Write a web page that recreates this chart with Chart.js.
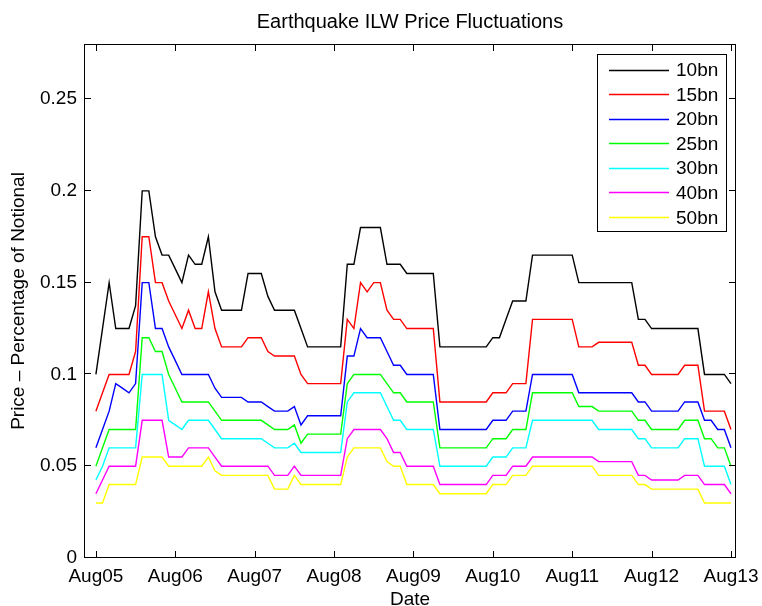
<!DOCTYPE html>
<html>
<head>
<meta charset="utf-8">
<script src="https://cdn.jsdelivr.net/npm/chart.js@4.4.1/dist/chart.umd.min.js"></script>
<style>
html,body{margin:0;padding:0;background:#ffffff;}
canvas{display:block;}
</style>
</head>
<body>
<canvas id="c" width="762" height="606"></canvas>
<script>
// ---- data (monthly, Aug 2005 = month 0 ... Aug 2013 = month 96) ----
const seriesNames  = ['10bn','15bn','20bn','25bn','30bn','40bn','50bn'];
const seriesColors = ['#000000','#ff0000','#0000ff','#00ff00','#00ffff','#ff00ff','#ffff00'];
const tickMonths   = [0,12,24,36,48,60,72,84,96];
const tickLabels   = ['Aug05','Aug06','Aug07','Aug08','Aug09','Aug10','Aug11','Aug12','Aug13'];
const yTickValues  = [0,0.05,0.1,0.15,0.2,0.25];
const yTickLabels  = ['0','0.05','0.1','0.15','0.2','0.25'];

const price10bn = [
  0.1,0.125,0.15,0.125,0.125,0.125,0.1375,0.2,0.2,0.175,0.165,0.165,
  0.1575,0.15,0.165,0.16,0.16,0.175,0.145,0.135,0.135,0.135,0.135,0.155,
  0.155,0.155,0.1425,0.135,0.135,0.135,0.135,0.125,0.115,0.115,0.115,0.115,
  0.115,0.115,0.16,0.16,0.18,0.18,0.18,0.18,0.16,0.16,0.16,0.155,
  0.155,0.155,0.155,0.155,0.115,0.115,0.115,0.115,0.115,0.115,0.115,0.115,
  0.12,0.12,0.13,0.14,0.14,0.14,0.165,0.165,0.165,0.165,0.165,0.165,
  0.165,0.15,0.15,0.15,0.15,0.15,0.15,0.15,0.15,0.15,0.13,0.13,
  0.125,0.125,0.125,0.125,0.125,0.125,0.125,0.125,0.1,0.1,0.1,0.1,
  0.095];
const price15bn = [
  0.08,0.09,0.1,0.1,0.1,0.1,0.1125,0.175,0.175,0.15,0.15,0.14,
  0.1325,0.125,0.135,0.125,0.125,0.145,0.125,0.115,0.115,0.115,0.115,0.12,
  0.12,0.12,0.1125,0.11,0.11,0.11,0.11,0.1,0.095,0.095,0.095,0.095,
  0.095,0.095,0.13,0.125,0.15,0.145,0.15,0.15,0.135,0.13,0.13,0.125,
  0.125,0.125,0.125,0.125,0.085,0.085,0.085,0.085,0.085,0.085,0.085,0.085,
  0.09,0.09,0.09,0.095,0.095,0.095,0.13,0.13,0.13,0.13,0.13,0.13,
  0.13,0.115,0.115,0.115,0.1175,0.1175,0.1175,0.1175,0.1175,0.1175,0.105,0.105,
  0.1,0.1,0.1,0.1,0.1,0.105,0.105,0.105,0.08,0.08,0.08,0.08,
  0.07];
const price20bn = [
  0.06,0.07,0.08,0.095,0.0925,0.09,0.095,0.15,0.15,0.125,0.125,0.115,
  0.1075,0.1,0.1,0.1,0.1,0.1,0.0925,0.0875,0.0875,0.0875,0.0875,0.085,
  0.085,0.085,0.0825,0.08,0.08,0.08,0.0825,0.0725,0.0775,0.0775,0.0775,0.0775,
  0.0775,0.0775,0.11,0.11,0.125,0.12,0.12,0.12,0.1125,0.105,0.105,0.1,
  0.1,0.1,0.1,0.1,0.07,0.07,0.07,0.07,0.07,0.07,0.07,0.07,
  0.075,0.075,0.075,0.08,0.08,0.08,0.1,0.1,0.1,0.1,0.1,0.1,
  0.1,0.09,0.09,0.09,0.09,0.09,0.09,0.09,0.09,0.09,0.085,0.085,
  0.08,0.08,0.08,0.08,0.08,0.085,0.085,0.085,0.075,0.075,0.07,0.07,
  0.06];
const price25bn = [
  0.05,0.06,0.07,0.07,0.07,0.07,0.07,0.12,0.12,0.1125,0.1125,0.1,
  0.0925,0.085,0.085,0.085,0.085,0.085,0.08,0.075,0.075,0.075,0.075,0.075,
  0.075,0.075,0.0725,0.07,0.07,0.07,0.0725,0.0625,0.0675,0.0675,0.0675,0.0675,
  0.0675,0.0675,0.095,0.1,0.1,0.1,0.1,0.1,0.095,0.09,0.09,0.085,
  0.085,0.085,0.085,0.085,0.06,0.06,0.06,0.06,0.06,0.06,0.06,0.06,
  0.065,0.065,0.065,0.07,0.07,0.07,0.09,0.09,0.09,0.09,0.09,0.09,
  0.09,0.0825,0.0825,0.0825,0.08,0.08,0.08,0.08,0.08,0.08,0.075,0.075,
  0.07,0.07,0.07,0.07,0.07,0.075,0.075,0.075,0.065,0.065,0.06,0.06,
  0.05];
const price30bn = [
  0.0425,0.05,0.06,0.06,0.06,0.06,0.06,0.1,0.1,0.1,0.1,0.075,
  0.0725,0.07,0.075,0.075,0.075,0.075,0.07,0.065,0.065,0.065,0.065,0.065,
  0.065,0.065,0.0625,0.06,0.06,0.06,0.0625,0.0575,0.0575,0.0575,0.0575,0.0575,
  0.0575,0.0575,0.085,0.09,0.09,0.09,0.09,0.09,0.0825,0.075,0.075,0.07,
  0.07,0.07,0.07,0.07,0.05,0.05,0.05,0.05,0.05,0.05,0.05,0.05,
  0.055,0.055,0.055,0.06,0.06,0.06,0.075,0.075,0.075,0.075,0.075,0.075,
  0.075,0.075,0.075,0.075,0.07,0.07,0.07,0.07,0.07,0.07,0.065,0.065,
  0.06,0.06,0.06,0.06,0.06,0.065,0.065,0.065,0.05,0.05,0.05,0.05,
  0.04];
const price40bn = [
  0.035,0.0425,0.05,0.05,0.05,0.05,0.05,0.075,0.075,0.075,0.075,0.055,
  0.055,0.055,0.06,0.06,0.06,0.06,0.055,0.05,0.05,0.05,0.05,0.05,
  0.05,0.05,0.05,0.045,0.045,0.045,0.05,0.045,0.045,0.045,0.045,0.045,
  0.045,0.045,0.065,0.07,0.07,0.07,0.07,0.07,0.065,0.0575,0.0575,0.05,
  0.05,0.05,0.05,0.05,0.04,0.04,0.04,0.04,0.04,0.04,0.04,0.04,
  0.045,0.045,0.045,0.05,0.05,0.05,0.055,0.055,0.055,0.055,0.055,0.055,
  0.055,0.055,0.055,0.055,0.0525,0.0525,0.0525,0.0525,0.0525,0.0525,0.045,0.045,
  0.0425,0.0425,0.0425,0.0425,0.0425,0.045,0.045,0.045,0.04,0.04,0.04,0.04,
  0.035];
const price50bn = [
  0.03,0.03,0.04,0.04,0.04,0.04,0.04,0.055,0.055,0.055,0.055,0.05,
  0.05,0.05,0.05,0.05,0.05,0.055,0.0475,0.045,0.045,0.045,0.045,0.045,
  0.045,0.045,0.045,0.0375,0.0375,0.0375,0.045,0.04,0.04,0.04,0.04,0.04,
  0.04,0.04,0.055,0.06,0.06,0.06,0.06,0.06,0.0525,0.05,0.05,0.04,
  0.04,0.04,0.04,0.04,0.035,0.035,0.035,0.035,0.035,0.035,0.035,0.035,
  0.04,0.04,0.04,0.045,0.045,0.045,0.05,0.05,0.05,0.05,0.05,0.05,
  0.05,0.05,0.05,0.05,0.045,0.045,0.045,0.045,0.045,0.045,0.04,0.04,
  0.0375,0.0375,0.0375,0.0375,0.0375,0.0375,0.0375,0.0375,0.03,0.03,0.03,0.03,
  0.03];

const allSeries = [price10bn,price15bn,price20bn,price25bn,price30bn,price40bn,price50bn];

// ---- chart ----
const FONT = "'Liberation Sans', Arial, Helvetica, sans-serif";
Chart.defaults.font.family = FONT;
Chart.defaults.font.size = 19;
Chart.defaults.color = '#000000';

const datasets = allSeries.map((vals, k) => ({
  label: seriesNames[k],
  data: vals.map((v, i) => ({x: i, y: v})),
  borderColor: seriesColors[k],
  backgroundColor: seriesColors[k],
  borderWidth: 1.4,
  pointRadius: 0,
  tension: 0,
  fill: false,
  order: seriesNames.length - k
}));

const framePlugin = {
  id: 'matlabFrame',
  afterDatasetsDraw(chart) {
    const {ctx, chartArea: a, scales} = chart;
    const xs = scales.x, ys = scales.y;
    ctx.save();
    ctx.strokeStyle = '#000000';
    ctx.lineWidth = 1;
    const L = Math.round(a.left) + 0.5, R = Math.round(a.right) - 0.5;
    const T = Math.round(a.top) + 0.5,  B = Math.round(a.bottom) - 0.5;
    ctx.strokeRect(L, T, R - L, B - T);
    const tl = 6.5;
    ctx.beginPath();
    tickMonths.forEach(v => {
      const px = Math.round(xs.getPixelForValue(v)) + 0.5;
      ctx.moveTo(px, B); ctx.lineTo(px, B - tl);
      ctx.moveTo(px, T); ctx.lineTo(px, T + tl);
    });
    yTickValues.forEach(v => {
      const py = Math.round(ys.getPixelForValue(v)) - 0.5;
      ctx.moveTo(L, py); ctx.lineTo(L + tl, py);
      ctx.moveTo(R, py); ctx.lineTo(R - tl, py);
    });
    ctx.stroke();

    // legend box inside the axes (north-east)
    const bx = 597.5, by = 54.5, bw = 129, bh = 177;
    ctx.fillStyle = '#ffffff';
    ctx.fillRect(bx, by, bw, bh);
    ctx.strokeRect(bx, by, bw, bh);
    ctx.font = '19px ' + FONT;
    ctx.textAlign = 'left';
    ctx.textBaseline = 'middle';
    chart.data.datasets.forEach((ds, i) => {
      const ly = 69.5 + i * 24.55;
      ctx.strokeStyle = ds.borderColor;
      ctx.lineWidth = 1.4;
      ctx.beginPath();
      ctx.moveTo(609, Math.round(ly) + 0.5);
      ctx.lineTo(669, Math.round(ly) + 0.5);
      ctx.stroke();
      ctx.fillStyle = '#000000';
      ctx.fillText(ds.label, 676, ly + 1.5);
    });
    ctx.restore();
  }
};

new Chart(document.getElementById('c'), {
  type: 'line',
  data: {datasets},
  options: {
    responsive: false,
    animation: false,
    devicePixelRatio: 1,
    layout: {padding: {left: 0, right: 26, top: 0, bottom: 0}},
    plugins: {
      legend: {display: false},
      tooltip: {enabled: false},
      title: {
        display: true,
        text: 'Earthquake ILW Price Fluctuations',
        fullSize: false,
        color: '#000000',
        font: {size: 20, weight: 'normal'},
        padding: {top: 10.5, bottom: 9.5}
      }
    },
    scales: {
      x: {
        type: 'linear',
        min: -1.8,
        max: 96.76,
        grid: {display: false, drawTicks: false},
        border: {display: false},
        afterBuildTicks: s => { s.ticks = tickMonths.map(v => ({value: v})); },
        ticks: {
          color: '#000000', padding: 7, maxRotation: 0, autoSkip: false,
          callback: v => tickLabels[tickMonths.indexOf(v)]
        },
        title: {display: true, text: 'Date', color: '#000000', font: {size: 19}, padding: {top: 0, bottom: -4.7}},
        afterFit: s => { s.height = 48; s.paddingLeft = 0; s.paddingRight = 0; }
      },
      y: {
        type: 'linear',
        min: 0,
        max: 0.28,
        grid: {display: false, drawTicks: false},
        border: {display: false},
        afterBuildTicks: s => { s.ticks = yTickValues.map(v => ({value: v})); },
        ticks: {
          color: '#000000', padding: 7, autoSkip: false,
          callback: v => yTickLabels[yTickValues.indexOf(v)]
        },
        title: {display: true, text: 'Price \u2013 Percentage of Notional', color: '#000000', font: {size: 19}, padding: {top: 7.6, bottom: 0}},
        afterFit: s => { s.width = 84; s.paddingTop = 0; s.paddingBottom = 0; }
      }
    }
  },
  plugins: [framePlugin]
});
</script>
</body>
</html>
